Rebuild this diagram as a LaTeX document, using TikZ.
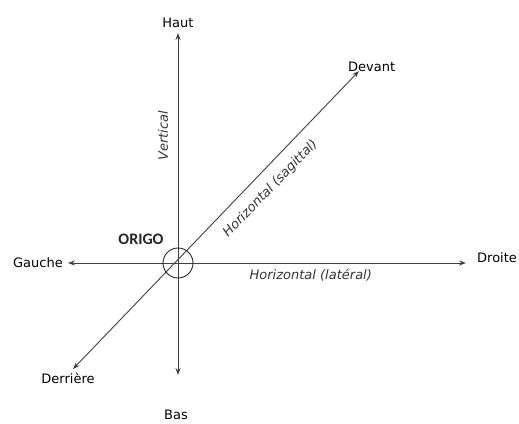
\documentclass[tikz,border=0pt]{standalone}
\usepackage{fontspec}
\setmainfont{DejaVu Sans}
\newfontfamily\origofont{Carlito}
\usetikzlibrary{arrows.meta, positioning, calc}

\begin{document}
\begin{tikzpicture}[x=1pt, y=-1pt, >={Stealth[length=7pt,width=5pt]},
  axis/.style={<->, draw=black!75, line width=0.9pt},
  lbl/.style={font=\fontsize{13}{15}\selectfont, inner sep=1pt},
  axlbl/.style={font=\fontsize{13}{15}\selectfont\itshape, text=black!80, inner sep=2pt}]
  \useasboundingbox (0,0) rectangle (519,423);

  % axis end points
  \coordinate (o) at (178,263);
  \coordinate (haut) at (178,33);
  \coordinate (bas) at (178,375);
  \coordinate (gauche) at (68,263);
  \coordinate (droite) at (466,263);
  \coordinate (devant) at (359,71);
  \coordinate (derriere) at (73,369);

  \node[lbl, above=4pt of haut] (lhaut) {Haut};
  \node[lbl] (lbas) at ($(bas)+(-2,40)$) {Bas};
  \node[lbl, left=4pt of gauche] (lgauche) {Gauche};
  \node[lbl, right=10pt of droite, yshift=5pt] (ldroite) {Droite};
  \node[lbl, above right=-2pt and -12pt of devant] (ldevant) {Devant};
  \node[lbl, below=3pt of derriere, xshift=-5pt] (lderriere) {Derrière};

  \draw[axis] (bas) -- (haut);
  \draw[axis] (gauche) -- (droite);
  \draw[axis] (derriere) -- (devant);

  % axis names
  \node[axlbl, rotate=90] (lvert) at ($(bas)!0.7!(haut)+(-15,0)$) {Vertical};
  \node[axlbl, below=4pt] (llat) at ($(gauche)!0.61!(droite)$) {Horizontal (latéral)};
  \node[axlbl, rotate=46] (lsag) at ($(derriere)!0.645!(devant)+(13,12)$) {Horizontal (sagittal)};

  \node[draw=black!85, line width=0.9pt, circle, minimum size=30pt, inner sep=0pt] (origo) at (o) {};
  \node[font=\origofont\bfseries\fontsize{16}{18}\selectfont, text=black!85, above left=4pt and 0pt of origo.north west] (lorigo) {ORIGO};
\end{tikzpicture}
\end{document}
